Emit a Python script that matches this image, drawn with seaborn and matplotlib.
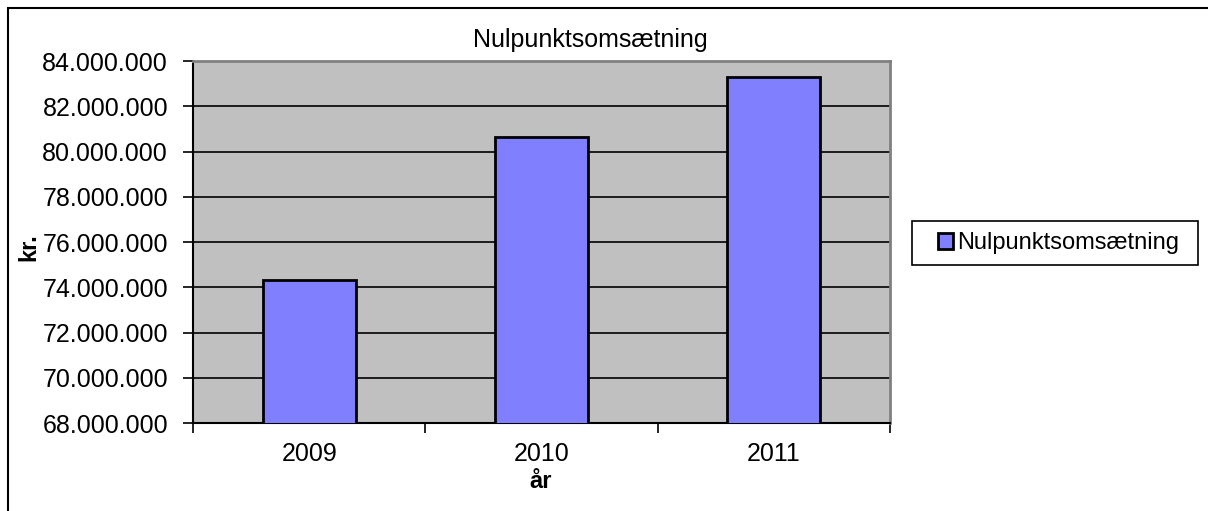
import matplotlib
matplotlib.use("Agg")
import matplotlib.pyplot as plt
import matplotlib.ticker as mticker
from matplotlib.patches import Rectangle
import pandas as pd
import seaborn as sns

# Data
years = ["2009", "2010", "2011"]
omsaetning = [74_310_000, 80_630_000, 83_280_000]
series_name = "Nulpunktsomsætning"

df = pd.DataFrame({"år": years, "kr": omsaetning})

sns.set_theme(style="white")
plt.rcParams["font.family"] = ["Liberation Sans", "DejaVu Sans"]
plt.rcParams["text.color"] = "black"
plt.rcParams["xtick.color"] = "black"
plt.rcParams["ytick.color"] = "black"

W, H = 1208, 511
fig = plt.figure(figsize=(W / 100, H / 100), dpi=100)
ax = fig.add_axes([193 / W, 1 - 423 / H, (890 - 193) / W, (423 - 61) / H])
ax.set_facecolor("#C0C0C0")

sns.barplot(data=df, x="år", y="kr", color="#8080FF", width=0.4,
            edgecolor="black", linewidth=2, saturation=1, ax=ax,
            label=series_name, zorder=3)

ax.set_ylim(68_000_000, 84_000_000)
ax.set_xlim(-0.5, 2.5)
ax.yaxis.set_major_locator(mticker.MultipleLocator(2_000_000))
ax.yaxis.set_major_formatter(
    mticker.FuncFormatter(lambda v, _: f"{int(v):,}".replace(",", ".")))
ax.grid(axis="y", color="black", linewidth=1.2, zorder=1)
ax.set_axisbelow(True)

# x ticks: labels at centres, tick marks at category borders
ax.xaxis.set_minor_locator(mticker.FixedLocator([-0.5, 0.5, 1.5, 2.5]))
ax.tick_params(axis="x", which="major", length=0, pad=14, labelsize=18)
ax.tick_params(axis="x", which="minor", length=7, width=1.2, color="black",
               direction="out", bottom=True)
ax.tick_params(axis="y", length=7, width=1.2, color="black", direction="out",
               left=True, labelsize=18, pad=11)

for side in ["left", "bottom"]:
    ax.spines[side].set_color("black")
    ax.spines[side].set_linewidth(1.5)
for side in ["top", "right"]:
    ax.spines[side].set_color("#808080")
    ax.spines[side].set_linewidth(2)

ax.set_xlabel("")
ax.set_ylabel("")
fig.text(590 / W, 1 - 40 / H, "Nulpunktsomsætning", ha="center", va="center",
         fontsize=18)
fig.text(29 / W, 1 - 247 / H, "kr.", rotation=90, ha="center", va="center",
         fontsize=17, fontweight="bold")
fig.text(541 / W, 1 - 481 / H, "år", ha="center", va="center",
         fontsize=17, fontweight="bold")

# legend: entry without frame, frame drawn separately
leg = ax.legend(loc="center left", bbox_to_anchor=(938 / W, 1 - 243 / H),
                bbox_transform=fig.transFigure, fontsize=17, frameon=False,
                handlelength=0.65, handleheight=0.65, handletextpad=0.15,
                borderpad=0, borderaxespad=0)
fig.patches.append(Rectangle((912, H - 265), 1198 - 912, 265 - 221,
                             transform=None, fill=False, edgecolor="black",
                             linewidth=1.2))

# outer chart frame
fig.patches.append(Rectangle((8, -10), W, H - 8 + 10, transform=None,
                             fill=False, edgecolor="black", linewidth=1.5))

fig.savefig("out.png", dpi=100)
